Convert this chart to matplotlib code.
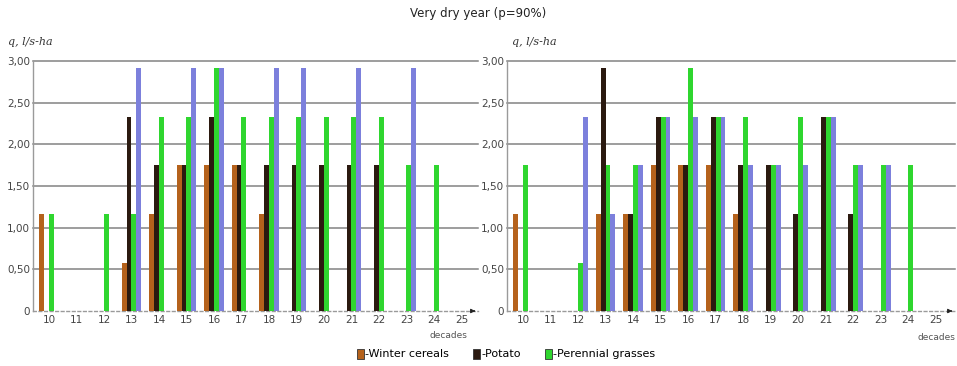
import matplotlib
matplotlib.use("Agg")
import matplotlib.pyplot as plt
from matplotlib.patches import Patch
from matplotlib.ticker import FuncFormatter
import numpy as np

decades = list(range(10, 26))

# Irrigation hydromodule q (l/s·ha) per decade, first field
left_winter = [1.17, 0, 0, 0.58, 1.17, 1.75, 1.75, 1.75, 1.17, 0, 0, 0, 0, 0, 0, 0]
left_potato = [0, 0, 0, 2.33, 1.75, 1.75, 2.33, 1.75, 1.75, 1.75, 1.75, 1.75, 1.75, 0, 0, 0]
left_grass = [1.17, 0, 1.17, 1.17, 2.33, 2.33, 2.92, 2.33, 2.33, 2.33, 2.33, 2.33, 2.33, 1.75, 1.75, 0]
left_other = [0, 0, 0, 2.92, 0, 2.92, 2.92, 0, 2.92, 2.92, 0, 2.92, 0, 2.92, 0, 0]

# Second field
right_winter = [1.17, 0, 0, 1.17, 1.17, 1.75, 1.75, 1.75, 1.17, 0, 0, 0, 0, 0, 0, 0]
right_potato = [0, 0, 0, 2.92, 1.17, 2.33, 1.75, 2.33, 1.75, 1.75, 1.17, 2.33, 1.17, 0, 0, 0]
right_grass = [1.75, 0, 0.58, 1.75, 1.75, 2.33, 2.92, 2.33, 2.33, 1.75, 2.33, 2.33, 1.75, 1.75, 1.75, 0]
right_other = [0, 0, 2.33, 1.17, 1.75, 2.33, 2.33, 2.33, 1.75, 1.75, 1.75, 2.33, 1.75, 1.75, 0, 0]

y_ticks = [0, 0.5, 1.0, 1.5, 2.0, 2.5, 3.0]
legend_labels = ["-Winter cereals", "-Potato", "-Perennial grasses"]

colors = ["#b5621c", "#2b1a10", "#2fd62f", "#7c80dc"]

W, H = 957, 366
fig = plt.figure(figsize=(W / 100, H / 100), dpi=100)
fig.patch.set_facecolor("white")


def ax_rect(x0, x1, y_top, y_bot):
    return [x0 / W, (H - y_bot) / H, (x1 - x0) / W, (y_bot - y_top) / H]


def fmt(v, _):
    if abs(v) < 1e-9:
        return "0"
    return f"{v:.2f}".replace(".", ",")


def draw_panel(ax, series, xlim):
    x = np.array(decades, dtype=float)
    bw = 0.18
    for i, (vals, c) in enumerate(zip(series, colors)):
        ax.bar(x + (i - 1.5) * bw, vals, width=bw, color=c,
               linewidth=0, zorder=3)
    ax.set_xlim(*xlim)
    ax.set_ylim(0, 3.0)
    ax.set_yticks(y_ticks)
    ax.yaxis.set_major_formatter(FuncFormatter(fmt))
    ax.set_xticks(decades)
    ax.set_xticklabels([str(d) for d in decades])
    for yv in y_ticks[1:]:
        ax.axhline(yv, color="#828282", lw=1.1, zorder=1, clip_on=False)
    for s in ["top", "right"]:
        ax.spines[s].set_visible(False)
    ax.spines["left"].set_color("#9a9a9a")
    ax.spines["left"].set_linewidth(1.0)
    ax.spines["bottom"].set_color("#9a9a9a")
    ax.spines["bottom"].set_linestyle((0, (2, 2)))
    ax.spines["bottom"].set_linewidth(1.0)
    ax.tick_params(axis="both", length=0, labelsize=7.5, colors="#444444", pad=3)
    ax.tick_params(axis="y", pad=2)
    ax.annotate("", xy=(1.0, 0), xycoords="axes fraction",
                xytext=(0.985, 0), textcoords="axes fraction",
                arrowprops=dict(arrowstyle="-|>", color="#222222", lw=0.8,
                                mutation_scale=6))


axL = fig.add_axes(ax_rect(33, 478, 61, 311))
draw_panel(axL, [left_winter, left_potato, left_grass, left_other], (9.42, 25.6))
axR = fig.add_axes(ax_rect(507, 955, 61, 311))
draw_panel(axR, [right_winter, right_potato, right_grass, right_other], (9.42, 25.7))

fig.text(478 / W, 1 - 14 / H, "Very dry year (p=90%)", ha="center", va="center",
         fontsize=8.5, color="#222222")
fig.text(8 / W, 1 - 42 / H, "q, l/s-ha", ha="left", va="center", fontsize=8,
         style="italic", family="DejaVu Serif", color="#333333")
fig.text(512 / W, 1 - 42 / H, "q, l/s-ha", ha="left", va="center", fontsize=8,
         style="italic", family="DejaVu Serif", color="#333333")
fig.text(430 / W, 1 - 336 / H, "decades", ha="left", va="center", fontsize=6.5,
         color="#555555")
fig.text(918 / W, 1 - 338 / H, "decades", ha="left", va="center", fontsize=6.5,
         color="#555555")

handles = [Patch(facecolor=c, edgecolor="#333333", linewidth=0.6) for c in colors[:3]]
fig.legend(handles, legend_labels, loc="center", bbox_to_anchor=(506 / W, 1 - 354 / H),
           ncol=3, frameon=False, fontsize=8, handlelength=0.6, handleheight=1.0,
           handletextpad=0.1, columnspacing=2.2, borderpad=0)

fig.savefig("out.png", dpi=100, facecolor="white")
